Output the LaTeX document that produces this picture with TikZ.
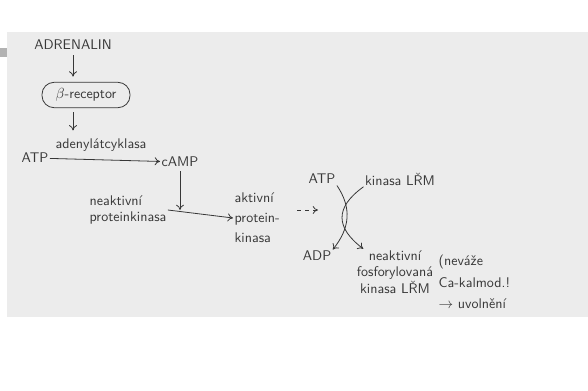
\documentclass[tikz,border=0pt]{standalone}
\usepackage{tikz}
\usetikzlibrary{positioning, arrows.meta}
\definecolor{paper}{RGB}{236,236,236}
\definecolor{ink}{RGB}{55,55,55}

\begin{document}
\begin{tikzpicture}[x=0.75pt, y=-0.75pt,
        every node/.style={font=\sffamily\fontsize{10.5}{12.5}\selectfont, text=ink, inner sep=1pt},
        pen/.style={draw=ink, semithick, -{To[length=4pt, width=6pt]}}]
        \useasboundingbox (0,0) rectangle (588,390);
        \fill[paper] (7,32) rectangle (588,317);
        \fill[black!30] (0,48) rectangle (7,57);

        \node (adr) at (73,45) {ADRENALIN};
        \node[draw=ink, semithick, rounded corners=9pt, minimum width=66pt, minimum height=19pt] (rec) at (86,95) {$\beta$-receptor};
        \node (ac) at (101,145) {adenylátcyklasa};
        \node (atpa) at (35,158) {ATP};
        \node (camp) at (180,162) {cAMP};
        \node[align=left, anchor=west] (pkin) at (88,210) {neaktivní\\proteinkinasa};
        \node[align=left, anchor=west, font=\sffamily\fontsize{10.5}{15}\selectfont] (pkact) at (233,218) {aktivní\\protein-\\kinasa};
        \node (atpb) at (322,179) {ATP};
        \node (lrm) at (400,179) {kinasa LŘM};
        \node (adp) at (317,256) {ADP};
        \node[align=center] (lrmp) at (395,272) {neaktivní\\fosforylovaná\\kinasa LŘM};
        \node[align=left, anchor=west, font=\sffamily\fontsize{10.5}{16}\selectfont] (note) at (437,282) {(nevá\v{z}e\\Ca-kalmod.!\\$\rightarrow$ uvolnění};
        \coordinate (dfrom) at (297,210);
        \coordinate (dto) at (318,210);

        \draw[pen, shorten <=3pt, shorten >=4pt] (adr.south) -- (adr.south |- rec.north);
        \draw[pen, shorten <=3pt, shorten >=5pt] (rec.south -| adr.south) -- (ac.north -| adr.south);
        \draw[pen] (atpa) -- (camp);
        \draw[pen] (pkin.east) -- (pkact.west);
        \draw[pen, shorten <=2pt] (camp) -- (camp |- pkin.east);
        \draw[pen, dashed] (dfrom) -- (dto);
        \draw[pen] (atpb.south east) .. controls (352,208) and (350,228) .. (adp.north east);
        \draw[pen] (lrm.south west) .. controls (334,208) and (336,228) .. ([xshift=6pt]lrmp.north west);
    \end{tikzpicture}
\end{document}
